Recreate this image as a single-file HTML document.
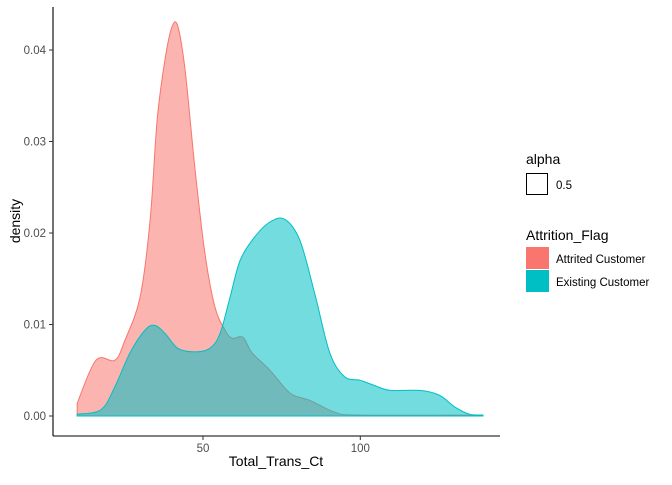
<!DOCTYPE html>
<html><head><meta charset="utf-8"><style>
body{margin:0;background:#fff}
svg text{font-family:"Liberation Sans",Arial,sans-serif}
</style></head><body>
<svg id="chart" width="672" height="480">
<rect width="672" height="480" fill="#fff"/>
<g id="plot"></g>
<line x1="53" y1="7" x2="53" y2="436" stroke="#000" stroke-width="1.1"/>
<line x1="53" y1="436" x2="500" y2="436" stroke="#000" stroke-width="1.1"/>
<g id="axes"></g>
<text x="276" y="466" font-size="14" text-anchor="middle" fill="#000">Total_Trans_Ct</text>
<text transform="translate(20,221) rotate(-90)" font-size="14" text-anchor="middle" fill="#000">density</text>
<g>
<text x="526" y="164" font-size="14">alpha</text>
<rect x="526.5" y="173.5" width="21" height="21" fill="#fff" stroke="#000"/>
<text x="556" y="189" font-size="11.5">0.5</text>
</g>
<g>
<text x="526" y="240" font-size="14">Attrition_Flag</text>
<rect x="526" y="247" width="23" height="22" fill="#F8766D"/>
<text x="556" y="263" font-size="11.5">Attrited Customer</text>
<rect x="526" y="270" width="23" height="22" fill="#00BFC4"/>
<text x="556" y="286" font-size="11.5">Existing Customer</text>
</g>
</svg>
<script>
const attritedX=[10,16,22,25.2,30,33.2,35.4,37.9,40.1,42,44.3,47.5,50.6,53.8,57,59.2,62.7,65.6,71.3,77.7,84,92,100,139];
const attritedY=[0.0014,0.0061,0.0061,0.0083,0.013,0.0214,0.0323,0.0389,0.0425,0.0426,0.0378,0.0269,0.0178,0.0119,0.0094,0.0085,0.0086,0.0069,0.005,0.0025,0.0017,0.0004,0.0001,0.0001];
const existingX=[10,17.6,22,26.8,31.6,34.7,38,42,47.5,52.2,55.4,58.6,61.8,66.5,71.3,76,80.8,85.5,90.3,95,100,104,109.5,118.7,125,130,134.7,139];
const existingY=[0.0002,0.0007,0.0032,0.0069,0.0094,0.0099,0.009,0.0074,0.007,0.0074,0.009,0.013,0.017,0.0196,0.0212,0.0215,0.0192,0.0134,0.0069,0.0043,0.0039,0.0034,0.0028,0.0028,0.0023,0.001,0.0002,0.0001];
const xTicks=[50,100];
const yTicks=[0,0.01,0.02,0.03,0.04];
const yTickLabels=["0.00","0.01","0.02","0.03","0.04"];
const sx=v=>203+(v-50)*3.146;
const sy=v=>416-v*9150;
const NS="http://www.w3.org/2000/svg";
const plot=document.getElementById('plot'),axes=document.getElementById('axes');
function area(xs,ys,fill,stroke,name){
  const P=xs.map((x,i)=>[sx(x),sy(ys[i])]);
  let d="M"+P[0][0]+","+sy(0)+" L"+P[0][0].toFixed(1)+","+P[0][1].toFixed(1);
  for(let i=0;i<P.length-1;i++){
    const p0=P[Math.max(0,i-1)],p1=P[i],p2=P[i+1],p3=P[Math.min(P.length-1,i+2)];
    const c1=[p1[0]+(p2[0]-p0[0])/6,Math.min(sy(0),p1[1]+(p2[1]-p0[1])/6)];
    const c2=[p2[0]-(p3[0]-p1[0])/6,Math.min(sy(0),p2[1]-(p3[1]-p1[1])/6)];
    d+=" C"+c1[0].toFixed(1)+","+c1[1].toFixed(1)+" "+c2[0].toFixed(1)+","+c2[1].toFixed(1)+" "+p2[0].toFixed(1)+","+p2[1].toFixed(1);
  }
  d+=" L"+P[P.length-1][0]+","+sy(0)+" Z";
  const p=document.createElementNS(NS,'path');
  p.setAttribute('d',d);p.setAttribute('fill',fill);p.setAttribute('fill-opacity','0.55');
  p.setAttribute('stroke',stroke);p.setAttribute('stroke-width','1');
  
  
  plot.appendChild(p);
}
area(attritedX,attritedY,'#F8766D','#F8766D','density-attrited');
area(existingX,existingY,'#00BFC4','#00BFC4','density-existing');
xTicks.forEach(t=>{
  const l=document.createElementNS(NS,'line');
  l.setAttribute('x1',sx(t));l.setAttribute('x2',sx(t));l.setAttribute('y1',436);l.setAttribute('y2',440);l.setAttribute('stroke','#333');
  
  
  axes.appendChild(l);
  const tx=document.createElementNS(NS,'text');
  tx.setAttribute('x',sx(t));tx.setAttribute('y',452);tx.setAttribute('font-size','11.5');tx.setAttribute('fill','#4d4d4d');tx.setAttribute('text-anchor','middle');
  tx.textContent=t;
  
  
  axes.appendChild(tx);
});
yTicks.forEach((t,i)=>{
  const l=document.createElementNS(NS,'line');
  l.setAttribute('x1',49);l.setAttribute('x2',53);l.setAttribute('y1',sy(t));l.setAttribute('y2',sy(t));l.setAttribute('stroke','#333');
  
  
  axes.appendChild(l);
  const tx=document.createElementNS(NS,'text');
  tx.setAttribute('x',46);tx.setAttribute('y',sy(t)+4);tx.setAttribute('font-size','11.5');tx.setAttribute('fill','#4d4d4d');tx.setAttribute('text-anchor','end');
  tx.textContent=yTickLabels[i];
  
  
  axes.appendChild(tx);
});
</script>
</body></html>
